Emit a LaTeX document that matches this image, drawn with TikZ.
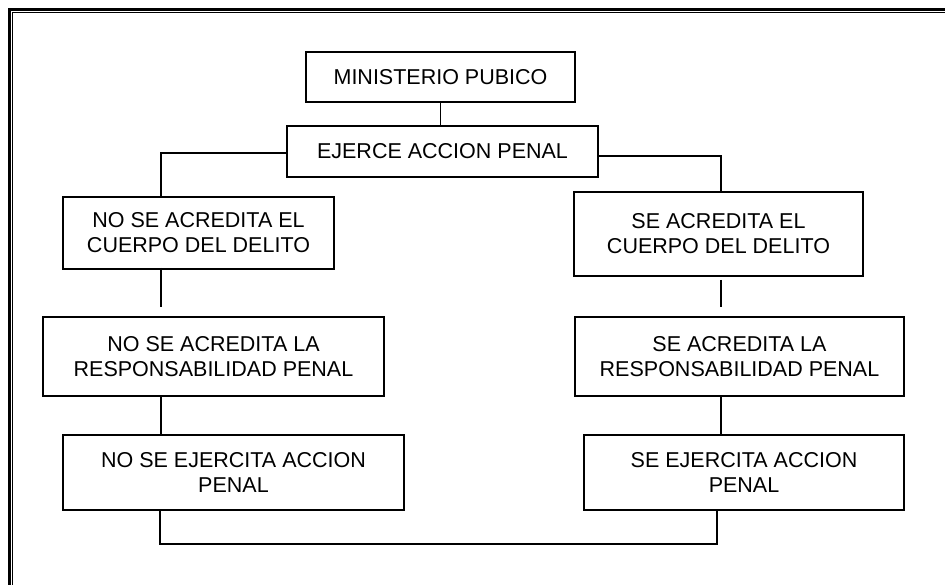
\documentclass[tikz,border=0pt]{standalone}
\usepackage{fontspec}
\setmainfont{Liberation Sans}
\begin{document}
\begin{tikzpicture}[x=1pt,y=-1pt,
  box/.style={draw,line width=1.5pt,rectangle,inner sep=0pt,align=center,
    font=\fontsize{21.5}{25}\selectfont},
  conn/.style={line width=1.5pt}]
\useasboundingbox (0,0) rectangle (945,584);
% frame (only top and left sides visible)
\draw[line width=3pt] (9,590) -- (9,9) -- (950,9);
\draw[line width=1.5pt] (12.5,590) -- (12.5,12.5) -- (950,12.5);
% boxes
\node[box,minimum width=269pt,minimum height=50pt] (mp) at (440.5,77) {MINISTERIO PUBICO};
\node[box,minimum width=311pt,minimum height=51pt] (ej) at (442.5,151.5) {EJERCE ACCION PENAL};
\node[box,minimum width=271pt,minimum height=72pt] (nc) at (198.5,233) {NO SE ACREDITA EL\\CUERPO DEL DELITO};
\node[box,minimum width=289pt,minimum height=84pt] (sc) at (718.5,234) {SE ACREDITA EL\\CUERPO DEL DELITO};
\node[box,minimum width=341pt,minimum height=79pt] (nr) at (213.5,356.5) {NO SE ACREDITA LA\\RESPONSABILIDAD PENAL};
\node[box,minimum width=329pt,minimum height=79pt] (sr) at (739.5,356.5) {SE ACREDITA LA\\RESPONSABILIDAD PENAL};
\node[box,minimum width=341pt,minimum height=75pt] (ne) at (233.5,472.5) {NO SE EJERCITA ACCION\\PENAL};
\node[box,minimum width=320pt,minimum height=75pt] (se) at (744,472.5) {SE EJERCITA ACCION\\PENAL};
% connector corners
\coordinate (lc) at (161,153);
\coordinate (rc) at (721,156);
\coordinate (bl) at (160,544);
\coordinate (br) at (717,544);
% connectors
\draw[conn] (mp.south) -- (mp.south |- ej.north);
\draw[conn] (ej.west |- lc) -- (lc) -- (lc |- nc.north);
\draw[conn] (ej.east |- rc) -- (rc) -- (rc |- sc.north);
\draw[conn,shorten <=-2pt,shorten >=9pt] (lc |- nc.south) -- (lc |- nr.north);
\draw[conn,shorten <=3pt,shorten >=9pt] (rc |- sc.south) -- (rc |- sr.north);
\draw[conn] (lc |- nr.south) -- (lc |- ne.north);
\draw[conn] (rc |- sr.south) -- (rc |- se.north);
\draw[conn] (bl |- ne.south) -- (bl) -- (br) -- (br |- se.south);
\end{tikzpicture}
\end{document}
